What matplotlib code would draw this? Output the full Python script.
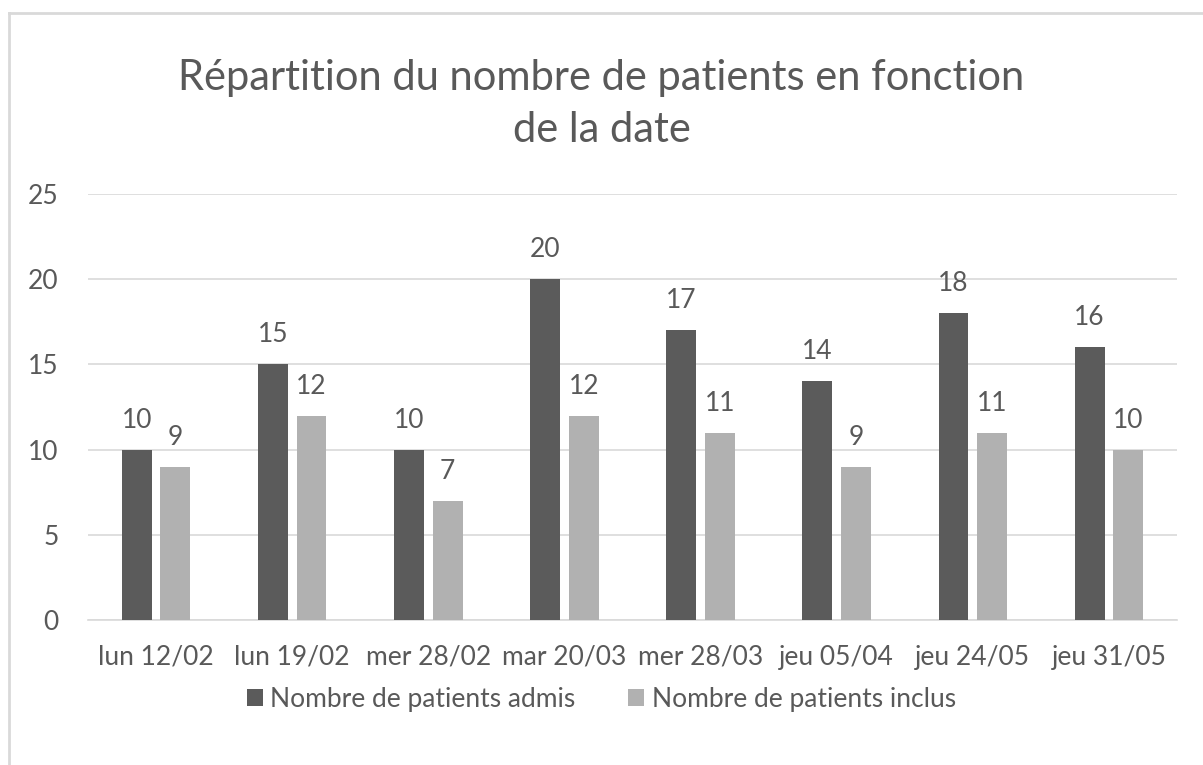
import matplotlib.pyplot as plt
from matplotlib.lines import Line2D
import numpy as np

plt.rcParams['font.family'] = ['Lato', 'DejaVu Sans']

# Data
dates = ['lun 12/02', 'lun 19/02', 'mer 28/02', 'mar 20/03',
         'mer 28/03', 'jeu 05/04', 'jeu 24/05', 'jeu 31/05']
admis = [10, 15, 10, 20, 17, 14, 18, 16]
inclus = [9, 12, 7, 12, 11, 9, 11, 10]

dark = '#5b5b5b'
light = '#b1b1b1'
txt = '#595959'

W, H = 1203, 765
fig = plt.figure(figsize=(W / 100, H / 100), dpi=100)
ax = fig.add_axes([88 / W, 1 - 620 / H, (1177 - 88) / W, (620 - 194) / H])

x = np.arange(len(dates))
bw = 0.22
off = 0.142
b1 = ax.bar(x - off, admis, bw, color=dark, label='Nombre de patients admis', zorder=3)
b2 = ax.bar(x + off, inclus, bw, color=light, label='Nombre de patients inclus', zorder=3)

for bars in (b1, b2):
    for r in bars:
        ax.annotate(str(int(r.get_height())), (r.get_x() + r.get_width() / 2, r.get_height()),
                    xytext=(0, 17), textcoords='offset pixels', ha='center', va='bottom',
                    fontsize=19, color=txt)

ax.set_xlim(-0.5, len(dates) - 0.5)
ax.set_ylim(0, 25)
ax.set_yticks([0, 5, 10, 15, 20, 25])
ax.set_xticks(x)
ax.set_xticklabels(dates)
ax.tick_params(axis='both', length=0, labelsize=19, labelcolor=txt)
ax.tick_params(axis='x', pad=18)
ax.tick_params(axis='y', pad=21)
ax.grid(axis='y', color='#d9d9d9', linewidth=1.2, zorder=0)
for s in ['top', 'right', 'left']:
    ax.spines[s].set_visible(False)
ax.spines['bottom'].set_color('#d9d9d9')
ax.spines['bottom'].set_linewidth(1.2)

fig.text(0.5, 1 - 104 / H, 'Répartition du nombre de patients en fonction\nde la date',
         ha='center', va='center', fontsize=30, color=txt, linespacing=1.45)

fig.legend(loc='center', bbox_to_anchor=(0.5, 1 - 699 / H), ncol=2, frameon=False,
           fontsize=19, labelcolor=txt, handlelength=0.6, handleheight=0.6,
           handletextpad=0.3, columnspacing=2.0)

# chart border (left and top edges visible)
fig.add_artist(Line2D([9 / W, 9 / W], [0, 1 - 13 / H], color='#d9d9d9', lw=2,
                      transform=fig.transFigure))
fig.add_artist(Line2D([9 / W, 1], [1 - 13 / H, 1 - 13 / H], color='#d9d9d9', lw=2,
                      transform=fig.transFigure))

fig.savefig('out.png', dpi=100, facecolor='white')
